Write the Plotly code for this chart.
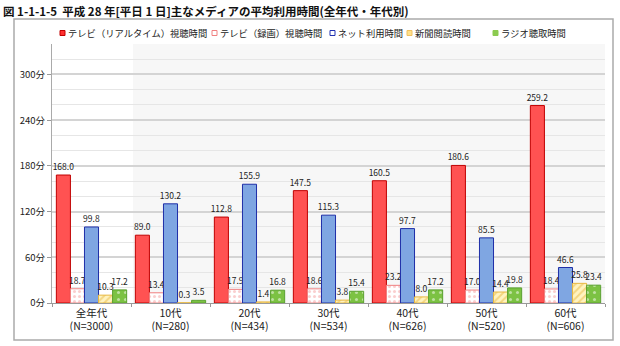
import plotly.graph_objects as go

categories = ["全年代<br>(N=3000)", "10代<br>(N=280)", "20代<br>(N=434)", "30代<br>(N=534)",
              "40代<br>(N=626)", "50代<br>(N=520)", "60代<br>(N=606)"]
series_names = ["テレビ（リアルタイム）視聴時間", "テレビ（録画）視聴時間", "ネット利用時間",
                "新聞閲読時間", "ラジオ聴取時間"]
tv_real = [168.0, 89.0, 112.8, 147.5, 160.5, 180.6, 259.2]
tv_rec = [18.7, 13.4, 17.9, 18.6, 23.2, 17.0, 18.4]
net = [99.8, 130.2, 155.9, 115.3, 97.7, 85.5, 46.6]
paper = [10.3, 0.3, 1.4, 3.8, 8.0, 14.4, 25.8]
radio = [17.2, 3.5, 16.8, 15.4, 17.2, 19.8, 23.4]
y_tickvals = [0, 60, 120, 180, 240, 300]
y_ticktext = ["0分", "60分", "120分", "180分", "240分", "300分"]
title_text = "図 1-1-1-5  平成 28 年[平日 1 日]主なメディアの平均利用時間(全年代・年代別)"

FONT = "Noto Sans CJK JP"

styles = [
    dict(color="#FF5252", line=dict(color="#C00000", width=1)),
    dict(color="#FFFFFF", line=dict(color="#F08080", width=1),
         pattern=dict(shape=".", fgcolor="#F4A0A0", bgcolor="#FFFFFF", size=5, solidity=0.3)),
    dict(color="#7FA6E2", line=dict(color="#1F2FA8", width=1)),
    dict(color="#FFE58A", line=dict(color="#E8B840", width=1),
         pattern=dict(shape="/", fgcolor="#E8B840", bgcolor="#FFF3C0", size=5, solidity=0.4)),
    dict(color="#7CC243", line=dict(color="#5AA030", width=1),
         pattern=dict(shape=".", fgcolor="#FFFFFF", bgcolor="#7CC243", size=7, solidity=0.15)),
]
legend_marks = [("#FF3030", "#C00000"), ("#FFFFFF", "#F08080"), ("#FFFFFF", "#2030B0"),
                ("#FFE08A", "#F0C060"), ("#8CCB50", "#8CCB50")]
legend_x = [60, 212, 330, 407, 493]

fig = go.Figure()
for name, vals, st in zip(series_names, [tv_real, tv_rec, net, paper, radio], styles):
    fig.add_trace(go.Bar(
        name=name, x=categories, y=vals, marker=st,
        text=[f"{v:.1f}" for v in vals], textposition="outside",
        textfont=dict(size=8.5, color="#222222", family=FONT),
        cliponaxis=False, showlegend=False,
    ))

W0, W1 = 52, 605
H0, H1 = 44, 303
pw, ph = W1 - W0, H1 - H0

def px(x):
    return (x - W0) / pw

def py(y):
    return (H1 - y) / ph

# light gray plot-area background on the right part
fig.add_shape(type="rect", xref="paper", yref="paper", x0=px(133), x1=1, y0=0, y1=1,
              line=dict(width=0), fillcolor="#F7F7F7", layer="below")
# outer frame
fig.add_shape(type="rect", xref="paper", yref="paper",
              x0=px(14), x1=px(613), y0=py(340), y1=py(19),
              line=dict(color="#AAAAAA", width=1.5), fillcolor="rgba(0,0,0,0)", layer="below")

# legend (custom)
for name, (fc, lc), lx in zip(series_names, legend_marks, legend_x):
    fig.add_shape(type="rect", xref="paper", yref="paper",
                  x0=px(lx), x1=px(lx + 5), y0=py(35.5), y1=py(30.5),
                  line=dict(color=lc, width=1), fillcolor=fc)
    fig.add_annotation(text=name, xref="paper", yref="paper", x=px(lx + 6), y=py(33),
                       xanchor="left", yanchor="middle", showarrow=False,
                       font=dict(size=9.3, color="#222222", family=FONT))

fig.add_annotation(text="<b>" + title_text + "</b>", xref="paper", yref="paper",
                   x=px(1), y=py(11), xanchor="left", yanchor="middle", showarrow=False,
                   font=dict(size=11.5, color="#111111", family=FONT))

fig.update_layout(
    width=620, height=346,
    margin=dict(l=W0, r=620 - W1, t=H0, b=346 - H1),
    paper_bgcolor="white", plot_bgcolor="#FFFFFF",
    barmode="group", bargap=0.11, bargroupgap=0.0,
    font=dict(family=FONT, color="#222222"),
    uniformtext=dict(minsize=8.5, mode="show"),
    showlegend=False,
    xaxis=dict(showline=True, linecolor="#999999", linewidth=1,
               tickson="boundaries", ticks="outside", ticklen=3, tickcolor="#999999",
               tickfont=dict(size=10.5, family=FONT, color="#222222"), showgrid=False),
    yaxis=dict(range=[0, 340], tickvals=y_tickvals, ticktext=y_ticktext,
               showline=True, linecolor="#AAAAAA", linewidth=1,
               ticks="outside", ticklen=4, tickcolor="#999999",
               gridcolor="#D4D4D4", gridwidth=1.5, zeroline=False,
               tickfont=dict(size=9.5, family=FONT, color="#222222"),
               minor=dict(dtick=20, tick0=0, showgrid=True, gridcolor="#E6E6E6", gridwidth=1)),
)

fig.write_html("out.html")
